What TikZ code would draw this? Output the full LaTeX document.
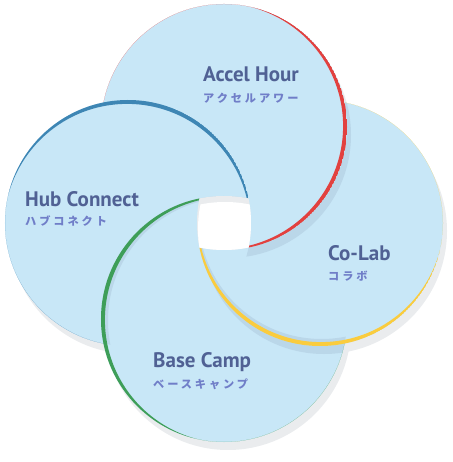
\documentclass[tikz,border=0pt]{standalone}
\usepackage{fontspec}
\setmainfont{PT Sans}
\newfontfamily\jpfont{Noto Sans CJK JP}
\usepackage{tikz}
\usetikzlibrary{positioning}
\definecolor{circlefill}{RGB}{200,231,247}
\definecolor{bgshadow}{RGB}{234,236,238}
\definecolor{fillshadow}{RGB}{186,215,233}
\definecolor{accelred}{RGB}{226,65,63}
\definecolor{hubblue}{RGB}{62,134,180}
\definecolor{basegreen}{RGB}{62,158,88}
\definecolor{labyellow}{RGB}{250,204,62}
\definecolor{titleblue}{RGB}{80,97,148}
\definecolor{kanablue}{RGB}{112,126,200}
\newcommand{\rad}{123}
% everything outside a disc, for clipping
\newcommand{\notdisc}[1]{(-600,-600) -- (600,-600) -- (600,600) -- (-600,600) -- cycle ([xshift=123pt]#1) arc[start angle=0, end angle=-360, radius=123]}

\begin{document}
\begin{tikzpicture}[
    x=1pt, y=1pt,
    title/.style={anchor=base west, inner sep=0, font=\bfseries\fontsize{21}{21}\selectfont, text=titleblue},
    kana/.style={anchor=base west, inner sep=0, font=\jpfont\bfseries\addfontfeatures{LetterSpace=26}\fontsize{11.2}{11.2}\selectfont, text=kanablue}
]
\useasboundingbox (-224,-239) rectangle (228,223);

% Centres
\coordinate (accel) at (0,96);
\coordinate (hub) at (-96,0);
\coordinate (base) at (0,-96);
\coordinate (colab) at (96,0);

% Shadows on the background
\foreach \c in {accel,hub,base,colab}
  \fill[bgshadow] ([shift={(4,-8)}]\c) circle (\rad);

% Discs
\foreach \c in {accel,hub,base,colab}
  \fill[circlefill] (\c) circle (\rad);

% Accel Hour casts on Co-Lab
\begin{scope}
  \clip (colab) circle (\rad);
  \clip \notdisc{accel};
  \clip \notdisc{hub};
  \fill[fillshadow] ([shift={(4,-8)}]accel) circle (\rad);
\end{scope}
% Co-Lab casts on Base Camp
\begin{scope}
  \clip (base) circle (\rad);
  \clip \notdisc{colab};
  \clip \notdisc{accel};
  \fill[fillshadow] ([shift={(4,-8)}]colab) circle (\rad);
\end{scope}
% Inner bands
\begin{scope}
  \clip (base) circle (\rad);
  \clip (hub) circle (\rad);
  \fill[fillshadow, even odd rule] (base) circle (\rad) ([shift={(7,-1.6)}]base) circle (\rad);
\end{scope}
\begin{scope}
  \clip (colab) circle (\rad);
  \clip (base) circle (\rad);
  \clip \notdisc{accel};
  \fill[fillshadow, even odd rule] (colab) circle (\rad) ([shift={(1.6,7)}]colab) circle (\rad);
\end{scope}

% Coloured rims
\begin{scope}
  \clip (accel) circle (\rad);
  \clip \notdisc{hub};
  \fill[accelred, even odd rule] (accel) circle (\rad) ([shift={(-3.9,0.9)}]accel) circle (\rad);
\end{scope}
\begin{scope}
  \clip (hub) circle (\rad);
  \clip \notdisc{base};
  \fill[hubblue, even odd rule] (hub) circle (\rad) ([shift={(-0.9,-3.9)}]hub) circle (\rad);
\end{scope}
\begin{scope}
  \clip (base) circle (\rad);
  \clip \notdisc{colab};
  \fill[basegreen, even odd rule] (base) circle (\rad) ([shift={(3.9,-0.9)}]base) circle (\rad);
\end{scope}
\begin{scope}
  \clip (colab) circle (\rad);
  \clip \notdisc{accel};
  \fill[labyellow, even odd rule] (colab) circle (\rad) ([shift={(0.9,3.9)}]colab) circle (\rad);
\end{scope}

% Hole in the middle
\begin{scope}
  \foreach \c in {accel,hub,base,colab}
    \clip (\c) circle (\rad);
  \fill[bgshadow] (-40,-40) rectangle (40,40);
  \foreach \c in {accel,hub,base,colab}
    \clip ([shift={(1,-6)}]\c) circle (\rad);
  \fill[white] (-40,-40) rectangle (40,40);
\end{scope}

% Labels
\node[title] (acceltitle) at (-21,141) {Accel Hour};
\node[kana] (accelkana) at (-21,120) {アクセルアワー};
\node[title] (hubtitle) at (-199,16) {Hub Connect};
\node[kana] (hubkana) at (-199,-3) {ハブコネクト};
\node[title] (colabtitle) at (104,-38) {Co-Lab};
\node[kana] (colabkana) at (104,-58) {コラボ};
\node[title] (basetitle) at (-71,-144) {Base Camp};
\node[kana] (basekana) at (-71,-165) {ベースキャンプ};
\end{tikzpicture}
\end{document}
